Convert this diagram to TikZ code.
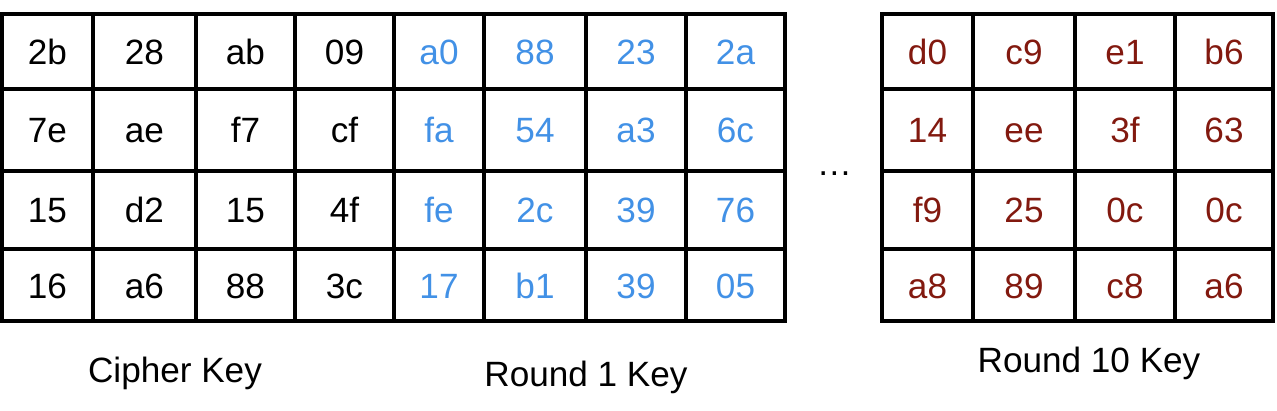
\documentclass[tikz,border=0pt]{standalone}
\usepackage{fontspec}
\setmainfont{Liberation Sans}
\definecolor{roundblue}{RGB}{66,145,230}
\definecolor{roundred}{RGB}{130,25,15}
\tikzset{
    cell/.style={font=\fontsize{20}{24}\selectfont, text height=14.3pt, text depth=0pt, inner sep=0pt},
    keylabel/.style={font=\fontsize{20}{24}\selectfont, anchor=base, inner sep=0pt},
    grid/.style={line width=2.1pt}
}
\begin{document}
\begin{tikzpicture}[x=0.02cm,y=-0.02cm]
        \useasboundingbox (0,0) rectangle (1277,411);
        % cipher key + round 1 key
        \draw[grid] (2,14) rectangle (785,321);
        % round 10 key
        \draw[grid] (882,14) rectangle (1273,321);
        \foreach \x in {93,196,295,394,484,586,686,973,1075,1175}
            \draw[grid] (\x,14) -- (\x,321);
        \foreach \y in {89,171,249} {
            \draw[grid] (2,\y) -- (785,\y);
            \draw[grid] (882,\y) -- (1273,\y);
        }

        \foreach \r/\y/\vals in {
            1/51.5/{2b,28,ab,09,a0,88,23,2a,d0,c9,e1,b6},
            2/130/{7e,ae,f7,cf,fa,54,a3,6c,14,ee,3f,63},
            3/210/{15,d2,15,4f,fe,2c,39,76,f9,25,0c,0c},
            4/285.5/{16,a6,88,3c,17,b1,39,05,a8,89,c8,a6}}
            \foreach \v [count=\c] in \vals {
                \pgfmathsetmacro{\xc}{{47.5,144.5,245.5,344.5,439,535,636,735.5,927.5,1024,1125,1224}[\c-1]}
                \ifnum\c<5 \def\tc{black}\else\ifnum\c<9 \def\tc{roundblue}\else\def\tc{roundred}\fi\fi
                \node[cell, text=\tc] (k\r-\c) at (\xc,\y) {\v};
            }

        \node[keylabel] (cipher) at (175,383) {Cipher Key};
        \node[keylabel] (round1) at (586,387) {Round 1 Key};
        \node[keylabel] (round10) at (1089,373) {Round 10 Key};
        \node[keylabel] (dots) at (834.5,176) {…};
    \end{tikzpicture}
\end{document}
